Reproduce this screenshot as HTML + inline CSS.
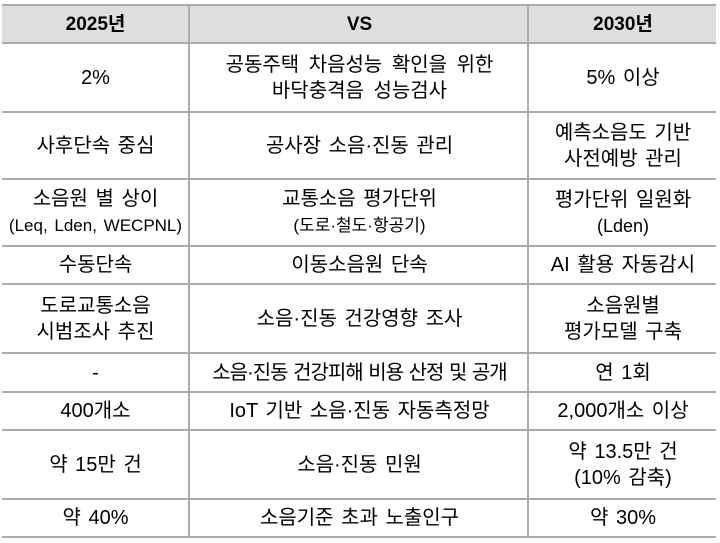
<!DOCTYPE html>
<html>
<head>
<meta charset="utf-8">
<style>
  html, body { margin:0; padding:0; background:#fff; }
  body { width:720px; height:543px; position:relative; overflow:hidden;
    font-family:"Liberation Sans","Noto Sans CJK KR","NanumGothic",sans-serif; color:#000; }
  .hl { position:absolute; left:2px; width:714px; height:2px; background:#ababab; }
  .vl { position:absolute; width:2px; background:#ababab; top:5px; height:533px; }
  .hdr { position:absolute; left:2px; width:714px; top:6px; height:37px; background:#dedede; }
  .c { position:absolute; display:flex; align-items:center; justify-content:center; }
  .c > div { text-align:center; font-size:20px; line-height:26px; word-spacing:2px; white-space:nowrap; }
  .a { left:2px; width:187px; }
  .b { left:191px; width:337px; }
  .d { left:530px; width:186px; }
  .c.h > div { font-weight:bold; font-size:19px; }
  .sm { font-size:17px; }
</style>
</head>
<body>
<div class="hdr"></div>

<div class="hl" style="top:4px"></div>
<div class="hl" style="top:42px"></div>
<div class="hl" style="top:111px"></div>
<div class="hl" style="top:178px"></div>
<div class="hl" style="top:245px"></div>
<div class="hl" style="top:283px"></div>
<div class="hl" style="top:352px"></div>
<div class="hl" style="top:391px"></div>
<div class="hl" style="top:429px"></div>
<div class="hl" style="top:498px"></div>
<div class="hl" style="top:536px"></div>

<div class="vl" style="left:188px"></div>
<div class="vl" style="left:527px"></div>

<!-- header -->
<div class="c a h" style="top:6px;height:37px"><div>2025년</div></div>
<div class="c b h" style="top:6px;height:37px"><div>VS</div></div>
<div class="c d h" style="top:6px;height:37px"><div>2030년</div></div>

<!-- row 1 -->
<div class="c a" style="top:44px;height:67px"><div>2%</div></div>
<div class="c b" style="top:44px;height:67px"><div style="word-spacing:4px">공동주택 차음성능 확인을 위한<br>바닥충격음 성능검사</div></div>
<div class="c d" style="top:44px;height:67px"><div>5% 이상</div></div>

<!-- row 2 -->
<div class="c a" style="top:113px;height:65px"><div>사후단속 중심</div></div>
<div class="c b" style="top:113px;height:65px"><div>공사장 소음·진동 관리</div></div>
<div class="c d" style="top:113px;height:65px"><div>예측소음도 기반<br>사전예방 관리</div></div>

<!-- row 3 -->
<div class="c a" style="top:180px;height:65px"><div>소음원 별 상이<br><span class="sm">(Leq, Lden, WECPNL)</span></div></div>
<div class="c b" style="top:180px;height:65px"><div>교통소음 평가단위<br><span class="sm">(도로·철도·항공기)</span></div></div>
<div class="c d" style="top:180px;height:65px"><div>평가단위 일원화<br><span style="font-size:18px">(Lden)</span></div></div>

<!-- row 4 -->
<div class="c a" style="top:247px;height:36px"><div>수동단속</div></div>
<div class="c b" style="top:247px;height:36px"><div>이동소음원 단속</div></div>
<div class="c d" style="top:247px;height:36px"><div>AI 활용 자동감시</div></div>

<!-- row 5 -->
<div class="c a" style="top:285px;height:67px"><div>도로교통소음<br>시범조사 추진</div></div>
<div class="c b" style="top:285px;height:67px"><div>소음·진동 건강영향 조사</div></div>
<div class="c d" style="top:285px;height:67px"><div>소음원별<br>평가모델 구축</div></div>

<!-- row 6 -->
<div class="c a" style="top:354px;height:37px"><div>-</div></div>
<div class="c b" style="top:354px;height:37px"><div style="letter-spacing:-1px;word-spacing:1px">소음·진동 건강피해 비용 산정 및 공개</div></div>
<div class="c d" style="top:354px;height:37px"><div>연 1회</div></div>

<!-- row 7 -->
<div class="c a" style="top:393px;height:36px"><div>400개소</div></div>
<div class="c b" style="top:393px;height:36px"><div>IoT 기반 소음·진동 자동측정망</div></div>
<div class="c d" style="top:393px;height:36px"><div>2,000개소 이상</div></div>

<!-- row 8 -->
<div class="c a" style="top:431px;height:67px"><div>약 15만 건</div></div>
<div class="c b" style="top:431px;height:67px"><div>소음·진동 민원</div></div>
<div class="c d" style="top:431px;height:67px"><div>약 13.5만 건<br>(10% 감축)</div></div>

<!-- row 9 -->
<div class="c a" style="top:500px;height:36px"><div>약 40%</div></div>
<div class="c b" style="top:500px;height:36px"><div>소음기준 초과 노출인구</div></div>
<div class="c d" style="top:500px;height:36px"><div>약 30%</div></div>
</body>
</html>
